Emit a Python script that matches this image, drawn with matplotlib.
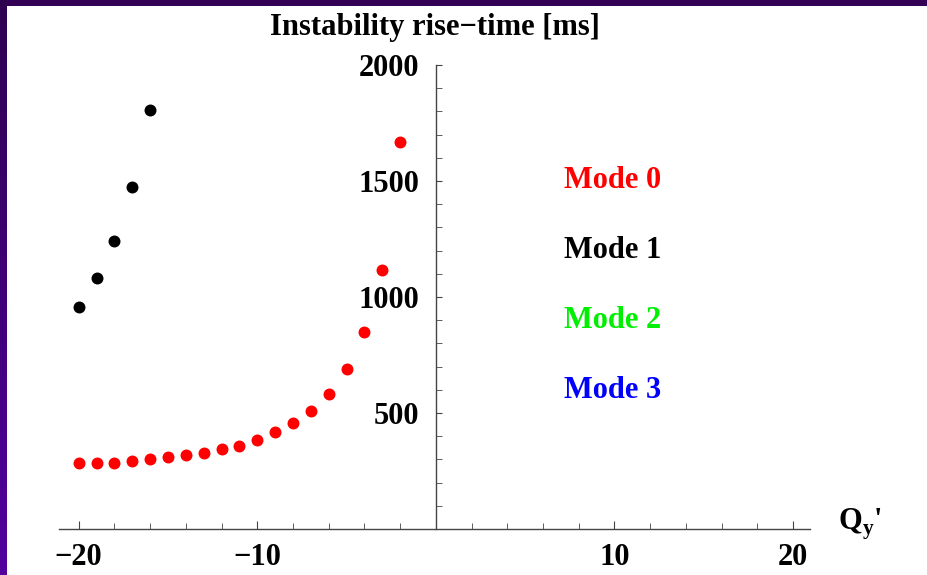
import numpy as np
import matplotlib
matplotlib.use("Agg")
import matplotlib.pyplot as plt
from matplotlib.ticker import MultipleLocator, FixedLocator
from matplotlib.colors import LinearSegmentedColormap

plt.rcParams['font.family'] = ['Liberation Serif', 'DejaVu Serif']
plt.rcParams['font.weight'] = 'bold'
plt.rcParams['mathtext.fontset'] = 'custom'
plt.rcParams['mathtext.bf'] = 'Liberation Serif:bold'
plt.rcParams['mathtext.rm'] = 'Liberation Serif:bold'

# mode 0 (red) and mode 1 (black) rise times vs chromaticity
q_mode0 = [-20, -19, -18, -17, -16, -15, -14, -13, -12, -11, -10,
           -9, -8, -7, -6, -5, -4, -3, -2]
t_mode0 = [284, 283, 283, 293, 302, 309, 317, 326, 343, 359, 384,
           418, 458, 508, 583, 691, 850, 1118, 1667]
q_mode1 = [-20, -19, -18, -17, -16]
t_mode1 = [958, 1083, 1241, 1474, 1807]

legend_labels = ["Mode 0", "Mode 1", "Mode 2", "Mode 3"]
legend_colors = ["#ff0000", "#000000", "#00ee00", "#0000ff"]

W, H = 927, 575
fig = plt.figure(figsize=(W / 100, H / 100), dpi=100)
fig.patch.set_facecolor("white")

ax = fig.add_axes([59 / W, 1 - 529 / H, (810 - 59) / W, (529 - 65) / H])
ax.set_xlim(-21.1, 20.95)
ax.set_ylim(0, 2000)
ax.patch.set_alpha(0)

ax.scatter(q_mode0, t_mode0, s=74, color="#ff0000", zorder=3, linewidths=0)
ax.scatter(q_mode1, t_mode1, s=74, color="#000000", zorder=3, linewidths=0)

for s in ["top", "right"]:
    ax.spines[s].set_visible(False)
ax.spines["left"].set_position(("data", 0))
ax.spines["bottom"].set_position(("data", 0))
for s in ["left", "bottom"]:
    ax.spines[s].set_color("#444444")
    ax.spines[s].set_linewidth(1.0)

ax.xaxis.set_major_locator(FixedLocator([-20, -10, 10, 20]))
ax.xaxis.set_minor_locator(MultipleLocator(2))
ax.yaxis.set_major_locator(FixedLocator([500, 1000, 1500, 2000]))
ax.yaxis.set_minor_locator(MultipleLocator(100))
ax.tick_params(axis="both", which="both", direction="in", color="#444444")
ax.tick_params(axis="x", which="major", length=6, pad=10, labelsize=22)
ax.tick_params(axis="x", which="minor", length=4)
ax.tick_params(axis="y", which="major", length=4, pad=12, labelsize=22)
ax.tick_params(axis="y", which="minor", length=4)

fig.text(435 / W, 1 - 28 / H, "Instability rise\u2212time [ms]",
         ha="center", va="center", fontsize=22, fontweight="bold")
fig.text(838 / W, 1 - 524 / H, r"$\mathbf{Q}_\mathbf{y}$'",
         ha="left", va="center", fontsize=22, fontweight="bold")

for i, (lab, col) in enumerate(zip(legend_labels, legend_colors)):
    fig.text(564 / W, 1 - (181 + i * 70) / H, lab, color=col,
             ha="left", va="center", fontsize=22, fontweight="bold")

# purple frame on the top and left edges
top = fig.add_axes([0, 1 - 6 / H, 1, 6 / H])
top.set_axis_off()
top.add_patch(plt.Rectangle((0, 0), 1, 1, color="#320055", transform=top.transAxes))
left = fig.add_axes([0, 0, 7 / W, 1])
grad = np.linspace(0, 1, 256).reshape(-1, 1)
cmap = LinearSegmentedColormap.from_list("frame", ["#2e0050", "#52009e"])
left.imshow(grad, aspect="auto", cmap=cmap, extent=[0, 1, 0, 1], origin="upper")
left.set_axis_off()

fig.savefig("out.png", dpi=100)
